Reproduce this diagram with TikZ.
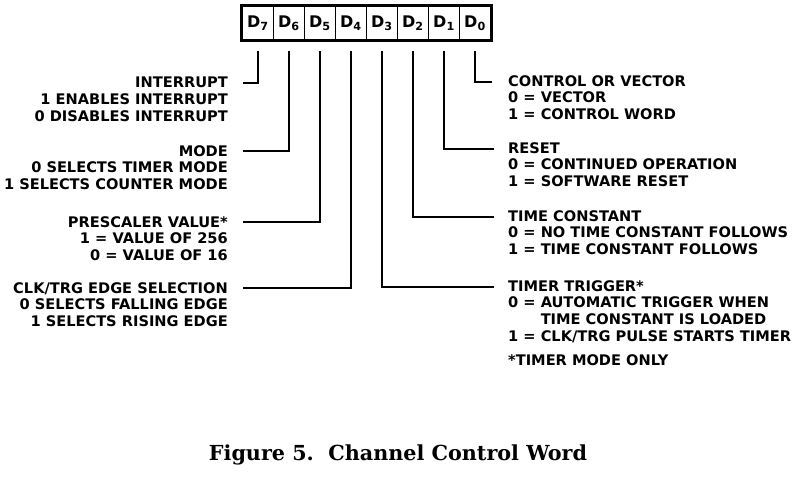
\documentclass[tikz,border=0pt]{standalone}
\usepackage{fontspec}
\setsansfont{DejaVu Sans}
\newfontfamily\capfont{DejaVu Serif}
\usetikzlibrary{positioning}
\tikzset{
  lbl/.style={font=\sffamily\bfseries\fontsize{14.6}{16.8}\selectfont, inner sep=0pt},
  bitcell/.style={draw, line width=1.3pt, minimum width=31pt, minimum height=33pt, inner sep=0pt,
                  font=\sffamily\bfseries\fontsize{16}{18}\selectfont},
  lead/.style={line width=1.8pt}
}
\begin{document}
\begin{tikzpicture}[x=1pt,y=-1pt]
            \useasboundingbox (0,0) rectangle (811,478);
            % the eight bits of the word
            \foreach \b [count=\i from 0] in {7,...,0}
                \node[bitcell] (d\b) at (258+31*\i,23) {D\textsubscript{\b}};
            \draw[line width=3.2pt] (d7.north west) rectangle (d0.south east);
            % left side
            \node[lbl, anchor=north east, align=right] (intr) at (228,77)
                {INTERRUPT\\1 ENABLES INTERRUPT\\0 DISABLES INTERRUPT};
            \node[lbl, anchor=north east, align=right] (mode) at (228,145)
                {MODE\\0 SELECTS TIMER MODE\\1 SELECTS COUNTER MODE};
            \node[lbl, anchor=north east, align=right] (presc) at (228,216)
                {PRESCALER VALUE*\\1 = VALUE OF 256\\0 = VALUE OF 16};
            \node[lbl, anchor=north east, align=right] (clk) at (228,282)
                {CLK/TRG EDGE SELECTION\\0 SELECTS FALLING EDGE\\1 SELECTS RISING EDGE};
            % right side
            \node[lbl, anchor=north west, align=left] (ctrl) at (508,75)
                {CONTROL OR VECTOR\\0 = VECTOR\\1 = CONTROL WORD};
            \node[lbl, anchor=north west, align=left] (rst) at (508,142)
                {RESET\\0 = CONTINUED OPERATION\\1 = SOFTWARE RESET};
            \node[lbl, anchor=north west, align=left] (tconst) at (508,210)
                {TIME CONSTANT\\0 = NO TIME CONSTANT FOLLOWS\\1 = TIME CONSTANT FOLLOWS};
            \node[lbl, anchor=north west, align=left] (trig) at (508,280)
                {TIMER TRIGGER*\\0 = AUTOMATIC TRIGGER WHEN\\\hphantom{0 = }TIME CONSTANT IS LOADED\\1 = CLK/TRG PULSE STARTS TIMER};
            \node[lbl, anchor=north west] (note) at (508,354) {*TIMER MODE ONLY};
            % leads from the bits
            \draw[lead] ([yshift=-11pt]d7.south) |- ([xshift=15pt,yshift=-6pt]intr.north east);
            \draw[lead] ([yshift=-11pt]d6.south) |- ([xshift=15pt,yshift=-6pt]mode.north east);
            \draw[lead] ([yshift=-11pt]d5.south) |- ([xshift=15pt,yshift=-6pt]presc.north east);
            \draw[lead] ([yshift=-11pt]d4.south) |- ([xshift=15pt,yshift=-6pt]clk.north east);
            \draw[lead] ([yshift=-11pt]d3.south) |- ([xshift=-14pt,yshift=-7pt]trig.north west);
            \draw[lead] ([yshift=-11pt]d2.south) |- ([xshift=-14pt,yshift=-7pt]tconst.north west);
            \draw[lead] ([yshift=-11pt]d1.south) |- ([xshift=-14pt,yshift=-7pt]rst.north west);
            \draw[lead] ([yshift=-11pt]d0.south) |- ([xshift=-16pt,yshift=-7pt]ctrl.north west);
            % caption
            \node[font=\capfont\bfseries\fontsize{20.7}{24}\selectfont, inner sep=0pt] (cap) at (398,455)
                {Figure 5.\ \ Channel Control Word};
\end{tikzpicture}
\end{document}
